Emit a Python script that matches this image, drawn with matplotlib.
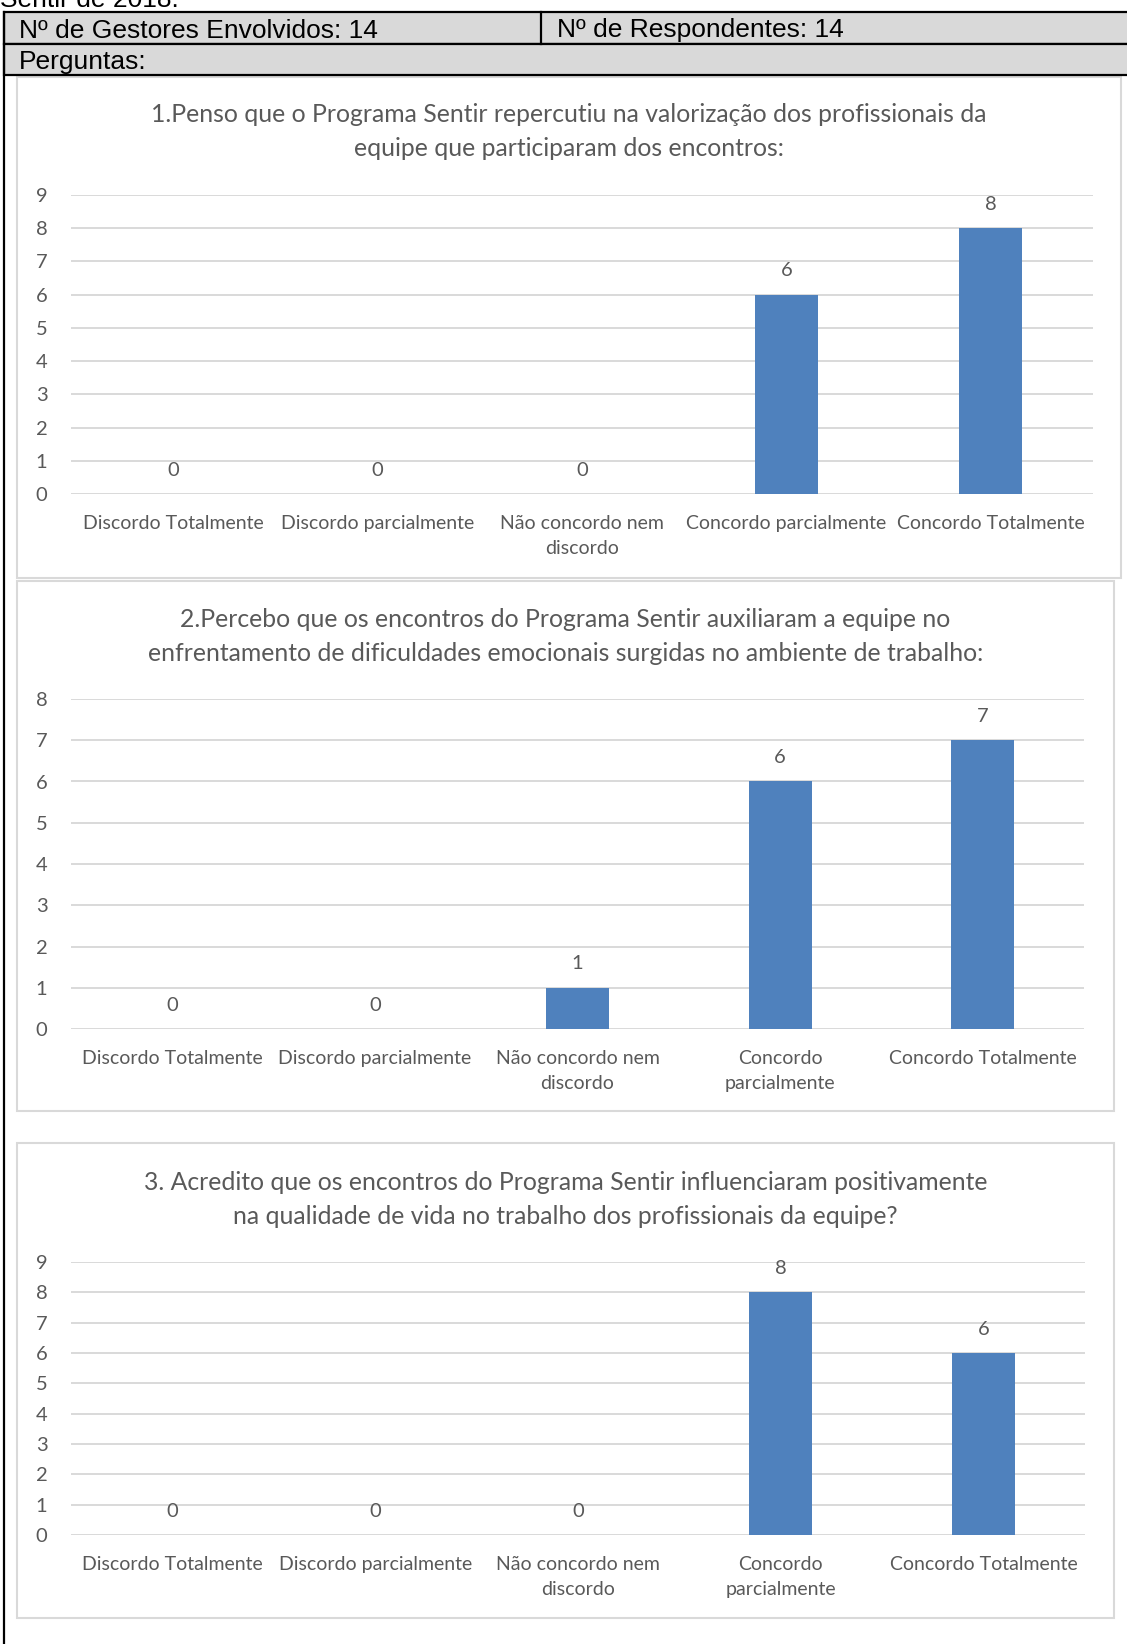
import matplotlib
matplotlib.use("Agg")
import matplotlib.pyplot as plt
from matplotlib.patches import Rectangle
from matplotlib.lines import Line2D

# ---------------- data ----------------
header_left = "Nº de Gestores Envolvidos: 14"
header_right = "Nº de Respondentes: 14"
header_row2 = "Perguntas:"
top_cut_text = "Sentir de 2018."

titles = [
    ["1.Penso que o Programa Sentir repercutiu na valorização dos profissionais da",
     "equipe que participaram dos encontros:"],
    ["2.Percebo que os encontros do Programa Sentir auxiliaram a equipe no",
     "enfrentamento de dificuldades emocionais surgidas no ambiente de trabalho:"],
    ["3. Acredito que os encontros do Programa Sentir influenciaram positivamente",
     "na qualidade de vida no trabalho dos profissionais da equipe?"],
]

categories_q1 = ["Discordo Totalmente", "Discordo parcialmente", "Não concordo nem\ndiscordo",
                 "Concordo parcialmente", "Concordo Totalmente"]
categories_q2 = ["Discordo Totalmente", "Discordo parcialmente", "Não concordo nem\ndiscordo",
                 "Concordo\nparcialmente", "Concordo Totalmente"]
categories_q3 = ["Discordo Totalmente", "Discordo parcialmente", "Não concordo nem\ndiscordo",
                 "Concordo\nparcialmente", "Concordo Totalmente"]

values_q1 = [0, 0, 0, 6, 8]
values_q2 = [0, 0, 1, 6, 7]
values_q3 = [0, 0, 0, 8, 6]

ymax_q1 = 9
ymax_q2 = 8
ymax_q3 = 9

# ---------------- layout ----------------
W, H = 1127, 1644
fig = plt.figure(figsize=(W / 100, H / 100), dpi=100)
fig.patch.set_facecolor("white")

BAR = "#4F81BD"
TXT = "#595959"
GRID = "#D9D9D9"
FONT = "Lato"
HFONT = "Liberation Sans"


def fx(x):
    return x / W


def fy(y):
    return 1 - y / H


def rect_px(x0, y0, x1, y1, **kw):
    r = Rectangle((fx(x0), fy(y1)), (x1 - x0) / W, (y1 - y0) / H,
                  transform=fig.transFigure, **kw)
    fig.add_artist(r)
    return r


# top cut text (only its lower part is visible, as in the reference)
fig.text(fx(0), fy(7), top_cut_text, fontfamily=HFONT, fontsize=19,
         color="black", ha="left", va="baseline")

# header table
rect_px(4, 12, 1130, 44, facecolor="#D9D9D9", edgecolor="black", lw=1.6, zorder=2)
rect_px(4, 44, 1130, 75, facecolor="#D9D9D9", edgecolor="black", lw=1.6, zorder=2)
fig.add_artist(Line2D([fx(541), fx(541)], [fy(12), fy(44)], transform=fig.transFigure,
                      color="black", lw=1.6, zorder=3))
fig.add_artist(Line2D([fx(4), fx(4)], [fy(12), fy(1650)], transform=fig.transFigure,
                      color="black", lw=1.6, zorder=3))
fig.text(fx(19), fy(37.5), header_left, fontfamily=HFONT, fontsize=19,
         color="black", ha="left", va="baseline", zorder=4)
fig.text(fx(557), fy(37.5), header_right, fontfamily=HFONT, fontsize=19,
         color="black", ha="left", va="baseline", zorder=4)
fig.text(fx(19), fy(69.5), header_row2, fontfamily=HFONT, fontsize=19,
         color="black", ha="left", va="baseline", zorder=4)

charts = [
    dict(box=(17, 77, 1121, 578), plot=(71, 195, 1093, 494), title_y=(115, 149),
         cats=categories_q1, vals=values_q1, ymax=ymax_q1),
    dict(box=(17, 581, 1114, 1111), plot=(71, 699, 1084, 1029), title_y=(619, 653),
         cats=categories_q2, vals=values_q2, ymax=ymax_q2),
    dict(box=(17, 1143, 1114, 1618), plot=(71, 1262, 1085, 1535), title_y=(1182, 1216),
         cats=categories_q3, vals=values_q3, ymax=ymax_q3),
]

for k, c in enumerate(charts):
    bx0, by0, bx1, by1 = c["box"]
    rect_px(bx0, by0, bx1, by1, facecolor="white", edgecolor=GRID, lw=1.5, zorder=1)
    cx = (bx0 + bx1) / 2
    for line, ty in zip(titles[k], c["title_y"]):
        fig.text(fx(cx), fy(ty), line, fontfamily=FONT, fontsize=17.8, color=TXT,
                 ha="center", va="center", zorder=4)

    px0, py0, px1, py1 = c["plot"]
    ax = fig.add_axes([fx(px0), fy(py1), (px1 - px0) / W, (py1 - py0) / H])
    ax.set_zorder(3)
    ax.patch.set_alpha(0)
    x = list(range(len(c["vals"])))
    ax.bar(x, c["vals"], width=0.31, color=BAR, zorder=3)
    ax.set_xlim(-0.5, len(x) - 0.5)
    ax.set_ylim(0, c["ymax"])
    ax.set_yticks(range(c["ymax"] + 1))
    ax.set_xticks(x)
    ax.set_xticklabels(c["cats"], fontfamily=FONT, fontsize=14, color=TXT,
                       linespacing=1.6)
    for lab in ax.get_yticklabels():
        lab.set_fontfamily(FONT)
        lab.set_fontsize(14.5)
        lab.set_color(TXT)
    ax.tick_params(axis="y", length=0, pad=17)
    ax.tick_params(axis="x", length=0, pad=15)
    ax.grid(axis="y", color=GRID, lw=1.4, zorder=0)
    ax.set_axisbelow(True)
    for s in ax.spines.values():
        s.set_visible(False)
    for i, v in enumerate(c["vals"]):
        ax.annotate(str(v), (i, v), xytext=(0, 11), textcoords="offset points",
                    ha="center", va="bottom", fontfamily=FONT, fontsize=14.5,
                    color=TXT, zorder=5)

fig.savefig("out.png", dpi=100)
